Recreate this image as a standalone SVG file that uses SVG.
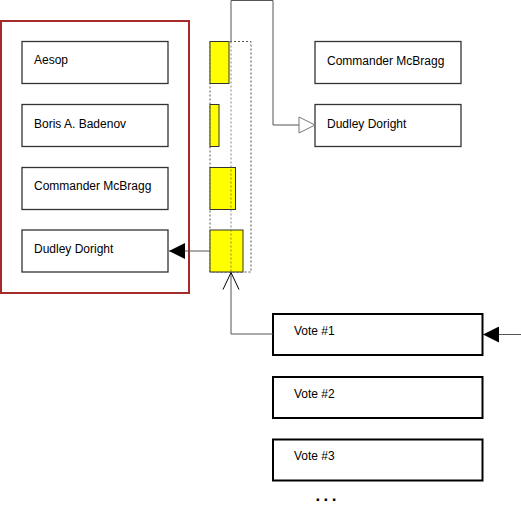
<svg xmlns="http://www.w3.org/2000/svg" width="521" height="520" viewBox="0 0 521 520">
<style>
text{font-family:"Liberation Sans",Arial,sans-serif;font-size:12px;fill:#000}
.nb{fill:#fff;stroke:#333;stroke-width:1.3}
.vb{fill:#fff;stroke:#000;stroke-width:2}
.bar{fill:#ffff00;stroke:#333;stroke-width:1}
.conn{fill:none;stroke:#555;stroke-width:1}
</style>
<defs>
<marker id="filled" markerWidth="16" markerHeight="16" refX="16" refY="8" orient="auto" markerUnits="userSpaceOnUse">
<path d="M0,0 L16,8 L0,16 Z" fill="#000"/>
</marker>
<marker id="hollow" markerWidth="18" markerHeight="18" refX="17" refY="9" orient="auto" markerUnits="userSpaceOnUse">
<path d="M1,1 L17,9 L1,17 Z" fill="#fff" stroke="#777" stroke-width="1"/>
</marker>
<marker id="open" markerWidth="20" markerHeight="20" refX="18" refY="9" orient="auto" markerUnits="userSpaceOnUse">
<path d="M1,1 L18,9 L1,17" fill="none" stroke="#000" stroke-width="1"/>
</marker>
</defs>
<rect width="521" height="520" fill="#fff"/>

<g id="voter-group">
<rect x="1" y="21" width="188" height="272" fill="none" stroke="#a52a2a" stroke-width="2"/>
</g>
<g id="name-aesop"><rect class="nb" x="22" y="41.5" width="146" height="42"/><text x="34" y="64">Aesop</text></g>
<g id="name-boris"><rect class="nb" x="22" y="104.5" width="146" height="42"/><text x="34" y="127.5">Boris A. Badenov</text></g>
<g id="name-mcbragg"><rect class="nb" x="22" y="167.5" width="146" height="42"/><text x="34" y="190">Commander McBragg</text></g>
<g id="name-dudley"><rect class="nb" x="22" y="230" width="146" height="42"/><text x="34" y="253">Dudley Doright</text></g>

<g id="tally">
<rect x="210" y="41.5" width="41" height="230.5" fill="none" stroke="#555" stroke-width="1" stroke-dasharray="2,2"/>
<rect class="bar" x="210" y="41.5" width="19" height="42"/>
<rect class="bar" x="210" y="104.5" width="9" height="42"/>
<rect class="bar" x="210" y="167.5" width="25.5" height="42"/>
<rect class="bar" x="210" y="230" width="33" height="42"/>
<line x1="231" y1="41.5" x2="231" y2="272" stroke="#666" stroke-width="0.8" stroke-dasharray="2,2"/>
</g>

<g id="out-mcbragg"><rect class="nb" x="315" y="41.5" width="146" height="42"/><text x="327" y="64.5">Commander McBragg</text></g>
<g id="out-dudley"><rect class="nb" x="315" y="104.5" width="146" height="42"/><text x="327" y="127.5">Dudley Doright</text></g>

<g id="vote1"><rect class="vb" x="273" y="314" width="209.5" height="41"/><text x="294" y="335">Vote #1</text></g>
<g id="vote2"><rect class="vb" x="273" y="377" width="209.5" height="41"/><text x="294" y="397.5">Vote #2</text></g>
<g id="vote3"><rect class="vb" x="273" y="439.5" width="209.5" height="41"/><text x="294" y="460">Vote #3</text></g>
<g id="more"><text x="315.5" y="501" style="font-weight:bold;font-size:17px;letter-spacing:3.4px">...</text></g>

<g id="connectors">
<path class="conn" d="M231,41.5 V0.5 H273 V125 H315" stroke="#888" marker-end="url(#hollow)"/>
<path class="conn" d="M210,251 H169" marker-end="url(#filled)"/>
<path class="conn" d="M521,334.5 H483" marker-end="url(#filled)"/>
<path class="conn" d="M273,334 H231 V272.5" stroke="#333" marker-end="url(#open)"/>
</g>
</svg>
